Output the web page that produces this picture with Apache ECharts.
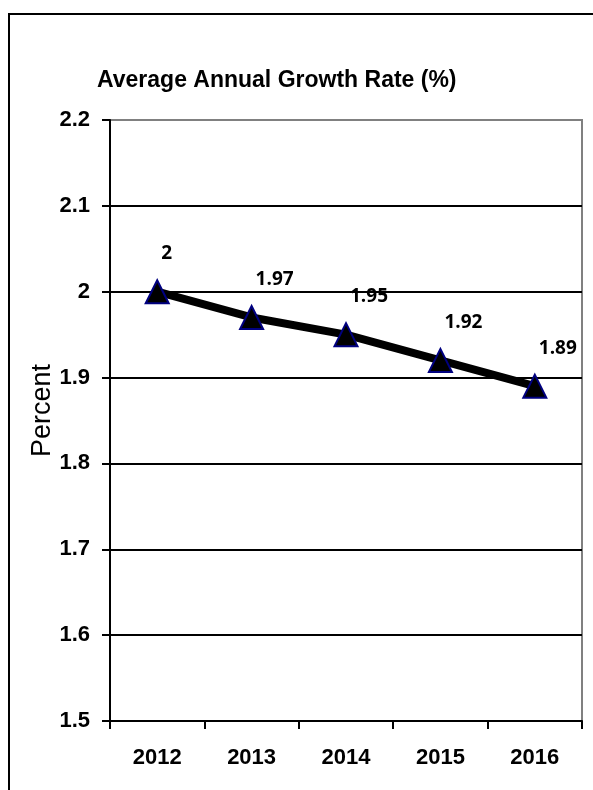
<!DOCTYPE html>
<html>
<head>
<meta charset="utf-8">
<script src="https://cdn.jsdelivr.net/npm/echarts@6/dist/echarts.min.js"></script>
<style>
html,body{margin:0;padding:0;background:#fff;}
#chart{width:593px;height:790px;}
</style>
</head>
<body>
<div id="chart"></div>
<script>
const categories = ['2012', '2013', '2014', '2015', '2016'];
const growthRate = [2, 1.97, 1.95, 1.92, 1.89];
const yTicks = [1.5, 1.6, 1.7, 1.8, 1.9, 2, 2.1, 2.2];
const titleText = 'Average Annual Growth Rate (%)';
const yAxisName = 'Percent';

const boldFamily = '"Liberation Sans", Arial, sans-serif';

const chart = echarts.init(document.getElementById('chart'), null, {renderer: 'canvas'});
const option = {
  backgroundColor: '#ffffff',
  animation: false,
  title: {
    text: titleText,
    left: 92,
    top: 64,
    textStyle: {fontFamily: boldFamily, fontWeight: 'bold', fontSize: 23, color: '#000'}
  },
  graphic: [{
    type: 'rect',
    shape: {x: 9, y: 14, width: 620, height: 820},
    style: {fill: 'none', stroke: '#000', lineWidth: 2},
    silent: true
  }],
  grid: {
    left: 110, right: 11, top: 120, bottom: 69,
    show: true, borderColor: '#808080', borderWidth: 2, backgroundColor: 'transparent'
  },
  xAxis: {
    type: 'category',
    data: categories,
    boundaryGap: true,
    axisLine: {lineStyle: {color: '#000', width: 2}},
    axisTick: {show: true, length: 8, lineStyle: {color: '#000', width: 2}},
    axisLabel: {margin: 26, color: '#000', fontFamily: boldFamily, fontWeight: 'bold', fontSize: 22}
  },
  yAxis: {
    type: 'value',
    min: yTicks[0],
    max: yTicks[yTicks.length - 1],
    interval: 0.1,
    name: yAxisName,
    nameLocation: 'middle',
    nameRotate: 90,
    nameGap: 54,
    nameMoveOverlap: false,
    nameTextStyle: {fontFamily: '"Liberation Sans", Arial, sans-serif', fontSize: 27, color: '#000', padding: [0, 0, 0, 20]},
    axisLine: {show: true, lineStyle: {color: '#000', width: 2}},
    axisTick: {show: true, length: 8, lineStyle: {color: '#000', width: 2}},
    axisLabel: {
      margin: 20, color: '#000', fontFamily: boldFamily, fontWeight: 'bold', fontSize: 22,
      formatter: v => String(parseFloat(v.toFixed(2)))
    },
    splitLine: {show: true, showMaxLine: false, lineStyle: {color: '#000', width: 2}}
  },
  series: [{
    type: 'line',
    data: growthRate,
    symbol: 'triangle',
    symbolSize: 23,
    itemStyle: {color: '#000', borderColor: '#000080', borderWidth: 2},
    lineStyle: {color: '#000', width: 8},
    label: {
      show: true,
      position: 'top',
      distance: 16,
      align: 'left',
      offset: [4, 0],
      color: '#000',
      fontFamily: 'Open Sans, sans-serif',
      fontWeight: 'bold',
      fontSize: 19
    },
    z: 5
  }]
};
chart.setOption(option);
</script>
</body>
</html>
